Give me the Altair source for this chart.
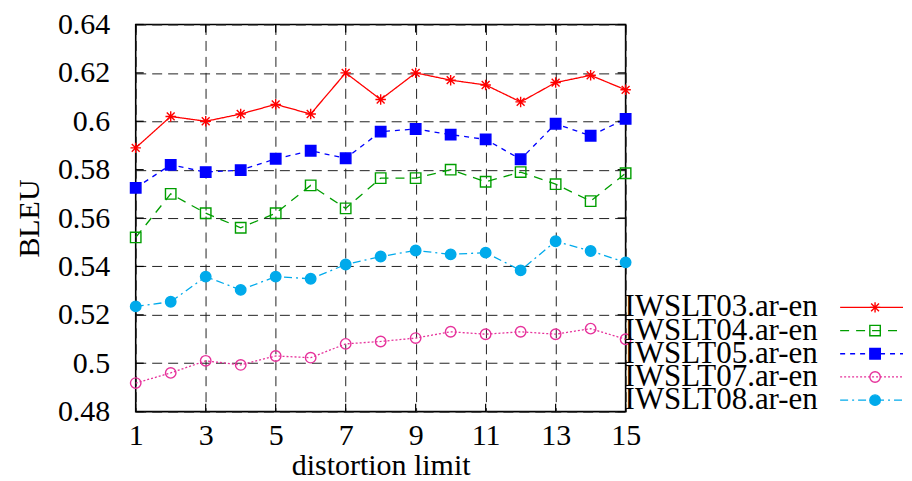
import altair as alt
import pandas as pd

distortion = list(range(1, 16))
series_names = ["IWSLT03.ar-en", "IWSLT04.ar-en", "IWSLT05.ar-en", "IWSLT07.ar-en", "IWSLT08.ar-en"]
iwslt03 = [0.589, 0.602, 0.600, 0.603, 0.607, 0.603, 0.620, 0.609, 0.620, 0.617, 0.615, 0.608, 0.616, 0.619, 0.613]
iwslt04 = [0.552, 0.570, 0.562, 0.556, 0.562, 0.5735, 0.564, 0.5765, 0.5765, 0.580, 0.575, 0.579, 0.574, 0.567, 0.5785]
iwslt05 = [0.5725, 0.582, 0.579, 0.5798, 0.5845, 0.5878, 0.5847, 0.5957, 0.5968, 0.5945, 0.5925, 0.5843, 0.599, 0.594, 0.601]
iwslt07 = [0.4918, 0.496, 0.501, 0.4993, 0.503, 0.5023, 0.508, 0.509, 0.5104, 0.513, 0.512, 0.513, 0.512, 0.5143, 0.5099]
iwslt08 = [0.5235, 0.5254, 0.5358, 0.5303, 0.5358, 0.5349, 0.5408, 0.5441, 0.5466, 0.545, 0.5457, 0.5384, 0.5504, 0.5464, 0.5417]
x_ticks = [1, 3, 5, 7, 9, 11, 13, 15]
y_ticks = [0.48, 0.50, 0.52, 0.54, 0.56, 0.58, 0.60, 0.62, 0.64]

colors = ["#ff0000", "#009e00", "#0000ff", "#e6329b", "#00aaeb"]
fills = ["transparent", "transparent", "#0000ff", "transparent", "#00aaeb"]
dashes = [[1, 0], [9, 7], [5, 5], [2, 2], [8, 4, 2, 4]]
asterisk = "M-1,0L1,0M0,-1L0,1M-0.75,-0.75L0.75,0.75M-0.75,0.75L0.75,-0.75"
shapes = [asterisk, "square", "square", "circle", "circle"]
sizes = [110, 110, 140, 100, 120]

X0, X1 = 1, 15
Y0, Y1 = 0.48, 0.64
W, H = 491, 388
TICK_PX = 8

rows = []
for name, vals in zip(series_names, [iwslt03, iwslt04, iwslt05, iwslt07, iwslt08]):
    for xv, yv in zip(distortion, vals):
        rows.append({"series": name, "x": xv, "y": yv})
df = pd.DataFrame(rows)

# inward tick segments (gnuplot style), derived from the tick lists
dx = TICK_PX * (X1 - X0) / W
dy = TICK_PX * (Y1 - Y0) / H
tick_rows = []
for t in x_ticks:
    tick_rows.append({"x": t, "x2": t, "y": Y0, "y2": Y0 + dy})
    tick_rows.append({"x": t, "x2": t, "y": Y1 - dy, "y2": Y1})
for t in y_ticks:
    tick_rows.append({"x": X0, "x2": X0 + dx, "y": t, "y2": t})
    tick_rows.append({"x": X1 - dx, "x2": X1, "y": t, "y2": t})
ticks_df = pd.DataFrame(tick_rows)

FONT = "Liberation Serif"
FS = 30

color_scale = alt.Scale(domain=series_names, range=colors)
fill_scale = alt.Scale(domain=series_names, range=fills)
dash_scale = alt.Scale(domain=series_names, range=dashes)
shape_scale = alt.Scale(domain=series_names, range=shapes)
size_scale = alt.Scale(domain=series_names, range=sizes)
x_scale = alt.Scale(domain=[X0, X1], nice=False, zero=False)
y_scale = alt.Scale(domain=[Y0, Y1], nice=False, zero=False)

xenc = alt.X("x:Q", scale=x_scale,
             axis=alt.Axis(values=x_ticks, title="distortion limit", grid=True,
                           gridDash=[10, 6], gridColor="#222222", gridWidth=1,
                           domain=False, ticks=False, labelPadding=9, titlePadding=0,
                           labelFlush=False,
                           labelFont=FONT, titleFont=FONT, labelFontSize=FS, titleFontSize=FS,
                           labelColor="black", titleColor="black", titleFontWeight="normal"))
yenc = alt.Y("y:Q", scale=y_scale,
             axis=alt.Axis(values=y_ticks, format=".2~f", title="BLEU", grid=True,
                           gridDash=[10, 6], gridColor="#222222", gridWidth=1,
                           domain=False, ticks=False, labelPadding=26, titlePadding=13,
                           labelFlush=False,
                           labelFont=FONT, titleFont=FONT, labelFontSize=FS, titleFontSize=FS,
                           labelColor="black", titleColor="black", titleFontWeight="normal"))

base = alt.Chart(df)
lines = base.mark_line(strokeWidth=1.3).encode(
    x=xenc, y=yenc,
    color=alt.Color("series:N", scale=color_scale, legend=None),
    strokeDash=alt.StrokeDash("series:N", scale=dash_scale, legend=None),
    detail="series:N",
)
points = base.mark_point(strokeWidth=1.4, opacity=1, fillOpacity=1).encode(
    x=alt.X("x:Q", scale=x_scale), y=alt.Y("y:Q", scale=y_scale),
    stroke=alt.Stroke("series:N", scale=color_scale, legend=None),
    fill=alt.Fill("series:N", scale=fill_scale, legend=None),
    shape=alt.Shape("series:N", scale=shape_scale, legend=None),
    size=alt.Size("series:N", scale=size_scale, legend=None),
)
tick_marks = alt.Chart(ticks_df).mark_rule(color="black", strokeWidth=1.2).encode(
    x=alt.X("x:Q", scale=x_scale), x2="x2:Q",
    y=alt.Y("y:Q", scale=y_scale), y2="y2:Q")

main = alt.layer(lines, tick_marks, points).properties(
    width=W, height=H,
    view=alt.ViewBackground(stroke="black", strokeWidth=1.6),
)

leg_df = pd.DataFrame({"series": series_names})
leg_y = alt.Y("series:N", scale=alt.Scale(type="point", domain=series_names, range=[283.5, 376.5], padding=0), axis=None)
leg_base = alt.Chart(leg_df)
leg_text = leg_base.mark_text(align="left", baseline="middle", font=FONT, fontSize=FS + 1, color="black").encode(
    x=alt.value(-1), y=leg_y, text="series:N")
leg_rule = leg_base.mark_rule(strokeWidth=1.3).encode(
    x=alt.value(215), x2=alt.value(278), y=leg_y,
    color=alt.Color("series:N", scale=color_scale, legend=None),
    strokeDash=alt.StrokeDash("series:N", scale=dash_scale, legend=None),
)
leg_pts = leg_base.mark_point(strokeWidth=1.4, opacity=1, fillOpacity=1).encode(
    x=alt.value(250), y=leg_y,
    stroke=alt.Stroke("series:N", scale=color_scale, legend=None),
    fill=alt.Fill("series:N", scale=fill_scale, legend=None),
    shape=alt.Shape("series:N", scale=shape_scale, legend=None),
    size=alt.Size("series:N", scale=size_scale, legend=None),
)
legend = alt.layer(leg_rule, leg_pts, leg_text).properties(
    width=278, height=H,
    view=alt.ViewBackground(strokeWidth=0),
)

chart = alt.hconcat(main, legend, spacing=0, bounds="flush").resolve_scale(
    color="independent", strokeDash="independent", shape="independent",
    fill="independent", stroke="independent", size="independent", y="independent",
).properties(
    padding={"left": 5, "top": 0, "right": 0, "bottom": 0},
    background="white",
).configure_view(strokeWidth=0)

chart.save("out.html", embed_options={"renderer": "svg", "actions": False})
